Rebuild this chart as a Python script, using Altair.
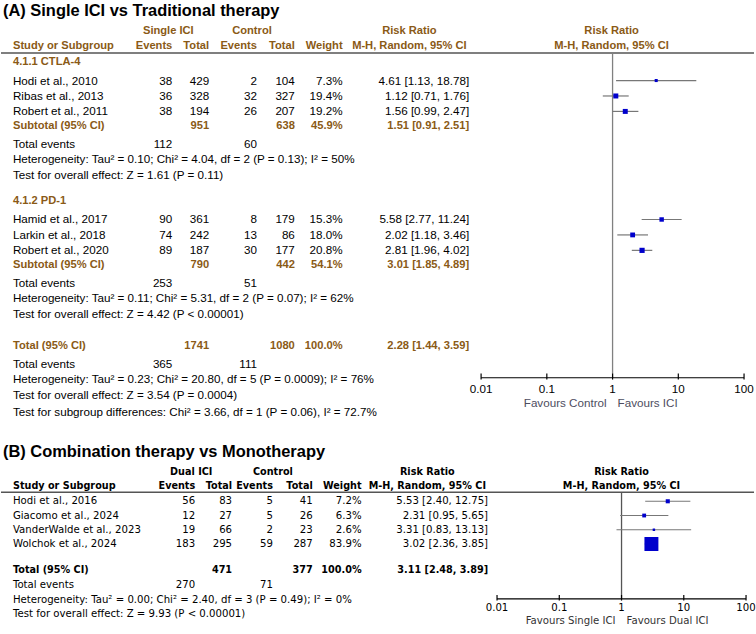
import altair as alt
import pandas as pd

# ---------------- data: panel A ----------------
A_title = "(A) Single ICI vs Traditional therapy"
A_groups = ["4.1.1 CTLA-4", "4.1.2 PD-1"]
A_studies = [["Hodi et al., 2010", "Ribas et al., 2013", "Robert et al., 2011"],
             ["Hamid et al., 2017", "Larkin et al., 2018", "Robert et al., 2020"]]
A_ev1 = [[38, 36, 38], [90, 74, 89]]
A_tot1 = [[429, 328, 194], [361, 242, 187]]
A_ev2 = [[2, 32, 26], [8, 13, 30]]
A_tot2 = [[104, 327, 207], [179, 86, 177]]
A_wt = [[7.3, 19.4, 19.2], [15.3, 18.0, 20.8]]
A_rr = [[4.61, 1.12, 1.56], [5.58, 2.02, 2.81]]
A_lo = [[1.13, 0.71, 0.99], [2.77, 1.18, 1.96]]
A_hi = [[18.78, 1.76, 2.47], [11.24, 3.46, 4.02]]
A_sub_tot1 = [951, 790]
A_sub_tot2 = [638, 442]
A_sub_wt = [45.9, 54.1]
A_sub_rr = [1.51, 3.01]
A_sub_lo = [0.91, 1.85]
A_sub_hi = [2.51, 4.89]
A_sub_ev1 = [112, 253]
A_sub_ev2 = [60, 51]
A_sub_het = ["Heterogeneity: Tau² = 0.10; Chi² = 4.04, df = 2 (P = 0.13); I² = 50%",
             "Heterogeneity: Tau² = 0.11; Chi² = 5.31, df = 2 (P = 0.07); I² = 62%"]
A_sub_test = ["Test for overall effect: Z = 1.61 (P = 0.11)",
              "Test for overall effect: Z = 4.42 (P < 0.00001)"]
A_total = {"tot1": 1741, "tot2": 1080, "wt": 100.0, "rr": 2.28, "lo": 1.44, "hi": 3.59,
           "ev1": 365, "ev2": 111}
A_total_notes = ["Heterogeneity: Tau² = 0.23; Chi² = 20.80, df = 5 (P = 0.0009); I² = 76%",
                 "Test for overall effect: Z = 3.54 (P = 0.0004)",
                 "Test for subgroup differences: Chi² = 3.66, df = 1 (P = 0.06), I² = 72.7%"]
A_arms = ["Single ICI", "Control"]
A_favours = ["Favours Control", "Favours ICI"]

# ---------------- data: panel B ----------------
B_title = "(B) Combination therapy vs Monotherapy"
B_studies = ["Hodi et al., 2016", "Giacomo et al., 2024", "VanderWalde et al., 2023", "Wolchok et al., 2024"]
B_ev1 = [56, 12, 19, 183]
B_tot1 = [83, 27, 66, 295]
B_ev2 = [5, 5, 2, 59]
B_tot2 = [41, 26, 23, 287]
B_wt = [7.2, 6.3, 2.6, 83.9]
B_rr = [5.53, 2.31, 3.31, 3.02]
B_lo = [2.40, 0.95, 0.83, 2.36]
B_hi = [12.75, 5.65, 13.13, 3.85]
B_total = {"tot1": 471, "tot2": 377, "wt": 100.0, "rr": 3.11, "lo": 2.48, "hi": 3.89,
           "ev1": 270, "ev2": 71}
B_total_notes = ["Heterogeneity: Tau² = 0.00; Chi² = 2.40, df = 3 (P = 0.49); I² = 0%",
                 "Test for overall effect: Z = 9.93 (P < 0.00001)"]
B_arms = ["Dual ICI", "Control"]
B_favours = ["Favours Single ICI", "Favours Dual ICI"]

TICKS = [0.01, 0.1, 1, 10, 100]
TICK_LABELS = ["0.01", "0.1", "1", "10", "100"]

ORANGE = "#8a5a16"
BLUE = "#0000cc"
W = 756


def ci_text(r, l, h):
    return f"{r:.2f} [{l:.2f}, {h:.2f}]"


def text_layer(cells, align, font, size, weight, color, yscale):
    df = pd.DataFrame(cells, columns=["row", "xpx", "text"])
    return alt.Chart(df).mark_text(align=align, baseline="middle", font=font, fontSize=size,
                                   fontWeight=weight, color=color).encode(
        x=alt.X("xpx:Q", scale=None),
        y=alt.Y("row:Q", scale=yscale, axis=None),
        text="text:N")


def forest_layers(xscale, yscale, sq_rows, sq_rr, sq_lo, sq_hi, sq_wt, size_max,
                  dia, dia_h, null_top, axis_row, tick_row, fav_row, favours,
                  null_color, ci_color, font, size, fav_color):
    X = lambda f: alt.X(f, scale=xscale, axis=None)
    Y = lambda f: alt.Y(f, scale=yscale, axis=None)
    sq = pd.DataFrame({"row": sq_rows, "rr": sq_rr, "lo": sq_lo, "hi": sq_hi, "wt": sq_wt})
    ci = alt.Chart(sq).mark_rule(color=ci_color, strokeWidth=1.2).encode(
        x=X("lo:Q"), x2="hi:Q", y=Y("row:Q"))
    squares = alt.Chart(sq).mark_square(color=BLUE, opacity=1, strokeWidth=0).encode(
        x=X("rr:Q"), y=Y("row:Q"),
        size=alt.Size("wt:Q", scale=alt.Scale(type="linear", domain=[0, 100], range=[0, size_max]),
                      legend=None))
    pts = []
    for i, (r, est, l, h) in enumerate(dia):
        pts += [{"g": i, "x": l, "y": r, "y2": r},
                {"g": i, "x": est, "y": r - dia_h, "y2": r + dia_h},
                {"g": i, "x": h, "y": r, "y2": r}]
    diam = alt.Chart(pd.DataFrame(pts)).mark_area(color="black", opacity=1, orient="vertical").encode(
        x=X("x:Q"), y=Y("y:Q"), y2="y2:Q", detail="g:N", order="x:Q")
    nl = alt.Chart(pd.DataFrame({"x": [1], "y": [null_top], "y2": [axis_row]})).mark_rule(
        color=null_color, strokeWidth=1.3).encode(x=X("x:Q"), y=Y("y:Q"), y2="y2:Q")
    ax = alt.Chart(pd.DataFrame({"x": [TICKS[0]], "x2": [TICKS[-1]], "y": [axis_row]})).mark_rule(
        color="black", strokeWidth=1.2).encode(x=X("x:Q"), x2="x2:Q", y=Y("y:Q"))
    tk = pd.DataFrame({"x": TICKS, "lab": TICK_LABELS, "y": [axis_row - 0.27] * 5,
                       "y2": [axis_row + 0.12] * 5, "ty": [tick_row] * 5})
    ticks = alt.Chart(tk).mark_rule(color="black", strokeWidth=1.2).encode(
        x=X("x:Q"), y=Y("y:Q"), y2="y2:Q")
    tlabs = alt.Chart(tk).mark_text(baseline="middle", align="center", font=font, fontSize=size,
                                    color="black").encode(x=X("x:Q"), y=Y("ty:Q"), text="lab:N")
    fv = pd.DataFrame({"x": [1], "y": [fav_row], "l": [favours[0]], "r": [favours[1]]})
    favl = alt.Chart(fv).mark_text(align="right", baseline="middle", dx=-6, font=font, fontSize=size,
                                   color=fav_color).encode(x=X("x:Q"), y=Y("y:Q"), text="l:N")
    favr = alt.Chart(fv).mark_text(align="left", baseline="middle", dx=5, font=font, fontSize=size,
                                   color=fav_color).encode(x=X("x:Q"), y=Y("y:Q"), text="r:N")
    return [nl, ci, squares, diam, ax, ticks, tlabs, favl, favr]


# ================= PANEL A =================
FA = "Liberation Sans"
SA = 11.7      # normal text
SAB = 11.2     # bold text
HA = 430
UA = 15.5      # px per row unit
OA = 61        # px offset of row 0
ysA = alt.Scale(domain=[-OA / UA, (HA - OA) / UA], reverse=True, nice=False, zero=False)
xsA = alt.Scale(type="log", domain=[0.01, 100], range=[482, 746], nice=False)
cA = {"name": 12, "ev1": 172, "tot1": 209, "ev2": 257, "tot2": 295, "wt": 343, "ci": 470,
      "rrh": 410, "forest": 613}

normL, normR, orL, orR, orC = [], [], [], [], []
sq_rows, sq_rr, sq_lo, sq_hi, sq_wt, dia = [], [], [], [], [], []
r = 0.0
for g in range(2):
    if g > 0:
        r += 1.7
    orL.append((r, cA["name"], A_groups[g]))
    for k in range(3):
        r += 1.2 if k == 0 else 1.0
        normL.append((r, cA["name"], A_studies[g][k]))
        normR += [(r, cA["ev1"], str(A_ev1[g][k])), (r, cA["tot1"], str(A_tot1[g][k])),
                  (r, cA["ev2"], str(A_ev2[g][k])), (r, cA["tot2"], str(A_tot2[g][k])),
                  (r, cA["wt"], f"{A_wt[g][k]:.1f}%"),
                  (r, cA["ci"], ci_text(A_rr[g][k], A_lo[g][k], A_hi[g][k]))]
        sq_rows.append(r); sq_rr.append(A_rr[g][k]); sq_lo.append(A_lo[g][k])
        sq_hi.append(A_hi[g][k]); sq_wt.append(A_wt[g][k])
    r += 0.95
    orL.append((r, cA["name"], "Subtotal (95% CI)"))
    orR += [(r, cA["tot1"], str(A_sub_tot1[g])), (r, cA["tot2"], str(A_sub_tot2[g])),
            (r, cA["wt"], f"{A_sub_wt[g]:.1f}%"),
            (r, cA["ci"], ci_text(A_sub_rr[g], A_sub_lo[g], A_sub_hi[g]))]
    dia.append((r, A_sub_rr[g], A_sub_lo[g], A_sub_hi[g]))
    r += 1.15
    normL.append((r, cA["name"], "Total events"))
    normR += [(r, cA["ev1"], str(A_sub_ev1[g])), (r, cA["ev2"], str(A_sub_ev2[g]))]
    r += 1.0
    normL.append((r, cA["name"], A_sub_het[g]))
    r += 1.0
    normL.append((r, cA["name"], A_sub_test[g]))
r += 2.1
orL.append((r, cA["name"], "Total (95% CI)"))
orR += [(r, cA["tot1"], str(A_total["tot1"])), (r, cA["tot2"], str(A_total["tot2"])),
        (r, cA["wt"], f"{A_total['wt']:.1f}%"),
        (r, cA["ci"], ci_text(A_total["rr"], A_total["lo"], A_total["hi"]))]
dia.append((r, A_total["rr"], A_total["lo"], A_total["hi"]))
r += 1.15
normL.append((r, cA["name"], "Total events"))
normR += [(r, cA["ev1"], str(A_total["ev1"])), (r, cA["ev2"], str(A_total["ev2"]))]
for i, note in enumerate(A_total_notes):
    r += 1.1 if i == 2 else 1.0
    normL.append((r, cA["name"], note))

h1, h2, hline = -2.03, -1.06, -0.58
orC += [(h1, 168, A_arms[0]), (h1, 252, A_arms[1]), (h1, cA["rrh"], "Risk Ratio"),
        (h1, cA["forest"], "Risk Ratio"), (h2, cA["rrh"], "M-H, Random, 95% CI"),
        (h2, cA["forest"], "M-H, Random, 95% CI")]
orL.append((h2, cA["name"], "Study or Subgroup"))
orR += [(h2, cA["ev1"], "Events"), (h2, cA["tot1"], "Total"), (h2, cA["ev2"], "Events"),
        (h2, cA["tot2"], "Total"), (h2, cA["wt"], "Weight")]

layersA = [
    text_layer([(-3.3, 2, A_title)], "left", FA, 16.5, "bold", "black", ysA),
    alt.Chart(pd.DataFrame({"y": [hline]})).mark_rule(color="#555", strokeWidth=1.5).encode(
        x=alt.value(0), x2=alt.value(W), y=alt.Y("y:Q", scale=ysA, axis=None)),
    text_layer(normL, "left", FA, SA, "normal", "black", ysA),
    text_layer(normR, "right", FA, SA, "normal", "black", ysA),
    text_layer(orL, "left", FA, SAB, "bold", ORANGE, ysA),
    text_layer(orR, "right", FA, SAB, "bold", ORANGE, ysA),
    text_layer(orC, "center", FA, SAB, "bold", ORANGE, ysA),
] + forest_layers(xsA, ysA, sq_rows, sq_rr, sq_lo, sq_hi, sq_wt, 130, dia, 0.4,
                  hline, 20.45, 21.16, 22.06, A_favours, "#808080", "#777777", FA, SA, "#4d4d60")

panelA = alt.layer(*layersA).properties(width=W, height=HA)

# ================= PANEL B =================
FB = "DejaVu Sans"
SB = 10.2
SBB = 9.7
HB = 634 - HA
UB = 14.3
OB = 72
ysB = alt.Scale(domain=[-OB / UB, (HB - OB) / UB], reverse=True, nice=False, zero=False)
xsB = alt.Scale(type="log", domain=[0.01, 100], range=[498, 748], nice=False)
cB = {"name": 12, "ev1": 195, "tot1": 232, "ev2": 273, "tot2": 313, "wt": 362, "ci": 489,
      "rrh": 428, "forest": 623}

bL, bR, bbL, bbR, bbC = [], [], [], [], []
bsq = []
r = 0.0
for k in range(4):
    if k > 0:
        r += 1.0
    bL.append((r, cB["name"], B_studies[k]))
    bR += [(r, cB["ev1"], str(B_ev1[k])), (r, cB["tot1"], str(B_tot1[k])),
           (r, cB["ev2"], str(B_ev2[k])), (r, cB["tot2"], str(B_tot2[k])),
           (r, cB["wt"], f"{B_wt[k]:.1f}%"), (r, cB["ci"], ci_text(B_rr[k], B_lo[k], B_hi[k]))]
    bsq.append(r)
r += 1.85
bbL.append((r, cB["name"], "Total (95% CI)"))
bbR += [(r, cB["tot1"], str(B_total["tot1"])), (r, cB["tot2"], str(B_total["tot2"])),
        (r, cB["wt"], f"{B_total['wt']:.1f}%"),
        (r, cB["ci"], ci_text(B_total["rr"], B_total["lo"], B_total["hi"]))]
bdia = [(r, B_total["rr"], B_total["lo"], B_total["hi"])]
r += 1.05
bL.append((r, cB["name"], "Total events"))
bR += [(r, cB["ev1"], str(B_total["ev1"])), (r, cB["ev2"], str(B_total["ev2"]))]
for note in B_total_notes:
    r += 1.0
    bL.append((r, cB["name"], note))

g1, g2, gline = -2.03, -1.05, -0.63
bbC += [(g1, 191, B_arms[0]), (g1, 273, B_arms[1]), (g1, cB["rrh"], "Risk Ratio"),
        (g1, cB["forest"], "Risk Ratio"), (g2, cB["rrh"], "M-H, Random, 95% CI"),
        (g2, cB["forest"], "M-H, Random, 95% CI")]
bbL.append((g2, cB["name"], "Study or Subgroup"))
bbR += [(g2, cB["ev1"], "Events"), (g2, cB["tot1"], "Total"), (g2, cB["ev2"], "Events"),
        (g2, cB["tot2"], "Total"), (g2, cB["wt"], "Weight")]

layersB = [
    text_layer([(-3.43, 2, B_title)], "left", FA, 16.5, "bold", "black", ysB),
    alt.Chart(pd.DataFrame({"y": [gline]})).mark_rule(color="#555", strokeWidth=1.5).encode(
        x=alt.value(0), x2=alt.value(W), y=alt.Y("y:Q", scale=ysB, axis=None)),
    text_layer(bL, "left", FB, SB, "normal", "black", ysB),
    text_layer(bR, "right", FB, SB, "normal", "black", ysB),
    text_layer(bbL, "left", FB, SBB, "bold", "black", ysB),
    text_layer(bbR, "right", FB, SBB, "bold", "black", ysB),
    text_layer(bbC, "center", FB, SBB, "bold", "black", ysB),
] + forest_layers(xsB, ysB, bsq, B_rr, B_lo, B_hi, B_wt, 234, bdia, 0.4,
                  gline, 6.85, 7.48, 8.39, B_favours, "#555555", "#777777", FB, SB, "#333333")

panelB = alt.layer(*layersB).properties(width=W, height=HB)

chart = alt.vconcat(panelA, panelB, spacing=0, bounds="flush").resolve_scale(
    x="independent", y="independent", size="independent").properties(
    padding=0).configure_view(stroke=None)

chart.save("out.html", embed_options={"renderer": "svg", "actions": False})
